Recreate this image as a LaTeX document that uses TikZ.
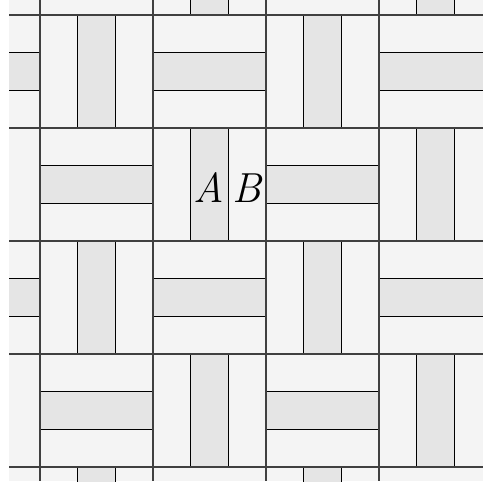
\documentclass[tikz,border=0pt]{standalone}
\definecolor{bgc}{HTML}{F4F4F4}
\definecolor{stripc}{HTML}{E5E5E5}
\definecolor{edgec}{HTML}{404040}
\begin{document}
\begin{tikzpicture}[x=1pt,y=-1pt,
  innerline/.style={line width=0.75pt,black},
  borderline/.style={line width=1.05pt,edgec},
  letter/.style={font=\fontsize{42}{42}\selectfont\itshape,anchor=base,inner sep=0pt}]
\useasboundingbox (0,0) rectangle (483,482);
\begin{scope}
\clip (9,0) rectangle (483,481);
\fill[bgc] (9,0) rectangle (483,481);
\foreach \c in {-1,...,3}{
  \foreach \r in {-1,...,4}{
    \pgfmathsetmacro{\X}{40+113*\c}
    \pgfmathsetmacro{\Y}{15+113*\r}
    \pgfmathtruncatemacro{\p}{mod(\c+\r+2,2)}
    \ifnum\p=0
      \fill[stripc] (\X+37.667,\Y) rectangle (\X+75.333,\Y+113);
      \draw[innerline] (\X+37.667,\Y) -- (\X+37.667,\Y+113)
                       (\X+75.333,\Y) -- (\X+75.333,\Y+113);
    \else
      \fill[stripc] (\X,\Y+37.667) rectangle (\X+113,\Y+75.333);
      \draw[innerline] (\X,\Y+37.667) -- (\X+113,\Y+37.667)
                       (\X,\Y+75.333) -- (\X+113,\Y+75.333);
    \fi
  }
}
\foreach \x in {40,153,266,379}{
  \draw[borderline] (\x,0) -- (\x,481);
}
\foreach \y in {15,128,241,354,467}{
  \draw[borderline] (9,\y) -- (483,\y);
}
\end{scope}
\node[letter] (A) at (209,202) {A};
\node[letter] (B) at (247,202) {B};
\end{tikzpicture}
\end{document}
